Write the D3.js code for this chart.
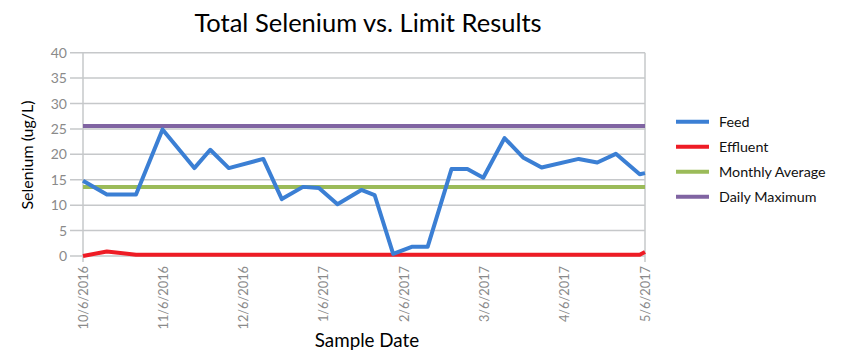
<!DOCTYPE html>
<html><head><meta charset="utf-8">
<script src="https://cdnjs.cloudflare.com/ajax/libs/d3/7.8.5/d3.min.js"></script>
<style>body{margin:0;background:#fff;font-family:Lato,"Open Sans",sans-serif;}</style>
</head><body><svg id="c" width="850" height="360"></svg>
<script>
const sampleDates = ["2016-10-06","2016-10-15","2016-10-26","2016-11-05","2016-11-17","2016-11-23","2016-11-30","2016-12-13","2016-12-20","2016-12-28","2017-01-03","2017-01-10","2017-01-19","2017-01-24","2017-01-31","2017-02-07","2017-02-13","2017-02-22","2017-02-28","2017-03-06","2017-03-14","2017-03-21","2017-03-28","2017-04-11","2017-04-18","2017-04-25","2017-05-04","2017-05-06"];
const feed = [14.8,12.1,12.1,24.9,17.3,20.9,17.3,19.1,11.2,13.6,13.4,10.2,13.0,12.0,0.4,1.8,1.8,17.1,17.1,15.4,23.2,19.4,17.4,19.1,18.4,20.1,16.1,16.3];
const effluent = [0.0,0.9,0.25,0.25,0.25,0.25,0.25,0.25,0.25,0.25,0.25,0.25,0.25,0.25,0.25,0.25,0.25,0.25,0.25,0.25,0.25,0.25,0.25,0.25,0.25,0.25,0.25,0.8];
const monthlyAverage = 13.6;
const dailyMaximum = 25.6;
const xTickLabels = ["10/6/2016","11/6/2016","12/6/2016","1/6/2017","2/6/2017","3/6/2017","4/6/2017","5/6/2017"];
const yTicks = [0,5,10,15,20,25,30,35,40];
const seriesNames = ["Feed","Effluent","Monthly Average","Daily Maximum"];
const seriesColors = ["#3b7fd4","#ee1c25","#9bbb59","#8064a2"];

const svg = d3.select("#c");
const L=83,R=645,T=52.7,B=256;
const parse = d3.timeParse("%Y-%m-%d");
const dates = sampleDates.map(parse);
const x = d3.scaleTime().domain([dates[0], dates[dates.length-1]]).range([L,R]);
const y = d3.scaleLinear().domain([0,40]).range([B,T]);
const grey="#c6c8ca", tgrey="#8a8a8a";

// gridlines
svg.append("g").selectAll("line").data(yTicks).join("line")
  .attr("x1",70).attr("x2",R).attr("y1",d=>y(d)).attr("y2",d=>y(d))
  .attr("stroke",grey).attr("stroke-width",1.5);
svg.append("line").attr("x1",L).attr("x2",L).attr("y1",T).attr("y2",262).attr("stroke",grey).attr("stroke-width",1.5);
svg.append("line").attr("x1",R).attr("x2",R).attr("y1",T).attr("y2",262).attr("stroke",grey).attr("stroke-width",1.5);

// y labels
svg.append("g").selectAll("text").data(yTicks).join("text")
  .attr("x",67).attr("y",d=>y(d)).attr("dy","0.36em").attr("text-anchor","end")
  .attr("font-size",14).attr("fill",tgrey).text(d=>d);

// x tick labels, evenly spaced
const t0=dates[0].getTime(), t1=dates[dates.length-1].getTime();
const xTickVals = xTickLabels.map((l,i)=>new Date(t0+i*(t1-t0)/(xTickLabels.length-1)));
svg.append("g").selectAll("text").data(xTickLabels).join("text")
  .attr("transform",(d,i)=>`translate(${x(xTickVals[i])+4.5},266) rotate(-90)`)
  .attr("text-anchor","end").attr("font-size",12.8).attr("fill",tgrey).text(d=>d);

// reference lines
[[dailyMaximum,3],[monthlyAverage,2]].forEach(([v,ci])=>{
  svg.append("line").attr("x1",L).attr("x2",R).attr("y1",y(v)).attr("y2",y(v))
    .attr("stroke",seriesColors[ci]).attr("stroke-width",4);
});
const line = d3.line().x((d,i)=>x(dates[i])).y(d=>y(d));
svg.append("path").datum(effluent).attr("d",line).attr("fill","none")
  .attr("stroke",seriesColors[1]).attr("stroke-width",4).attr("stroke-linejoin","round");
svg.append("path").datum(feed).attr("d",line).attr("fill","none")
  .attr("stroke",seriesColors[0]).attr("stroke-width",4).attr("stroke-linejoin","round");

// legend
const lg = svg.append("g").selectAll("g").data(seriesNames).join("g")
  .attr("transform",(d,i)=>`translate(676,${121.7+i*25})`);
lg.append("line").attr("x1",0).attr("x2",33).attr("stroke",(d,i)=>seriesColors[i]).attr("stroke-width",4);
lg.append("text").attr("x",43).attr("dy","0.36em").attr("font-size",14.3).attr("fill","#111").text(d=>d);

// titles
svg.append("text").attr("x",368).attr("y",32).attr("text-anchor","middle").attr("font-size",25.5).attr("fill","#000").text("Total Selenium vs. Limit Results");
svg.append("text").attr("x",367).attr("y",347).attr("text-anchor","middle").attr("font-size",18.8).attr("fill","#000").text("Sample Date");
svg.append("text").attr("transform","translate(33,155) rotate(-90)").attr("text-anchor","middle").attr("font-size",16).attr("fill","#000").text("Selenium (ug/L)");
</script></body></html>
